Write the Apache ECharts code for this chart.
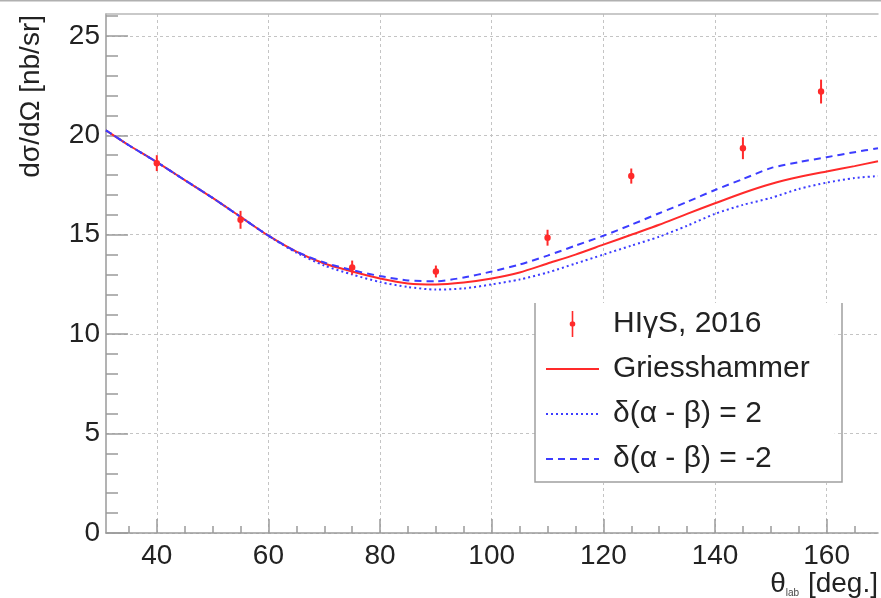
<!DOCTYPE html>
<html>
<head>
<meta charset="utf-8">
<script src="https://cdn.jsdelivr.net/npm/echarts@6/dist/echarts.min.js"></script>
<style>
  html, body { margin: 0; padding: 0; background: #fff; }
  #chart { width: 881px; height: 598px; }
</style>
</head>
<body>
<div id="chart"></div>
<script>
// Measured cross sections (HIγS, 2016) with their errors
const dataAngles = [40, 55, 75, 90, 110, 125, 145, 159];
const dataValues = [18.6, 15.75, 13.35, 13.15, 14.85, 17.95, 19.35, 22.2];
const dataErrors = [0.4, 0.45, 0.35, 0.3, 0.4, 0.38, 0.55, 0.6];

// Theory curves sampled in the lab angle
const curveAngles = [30.9, 35, 40, 45, 50, 55, 60, 65, 70, 75, 80, 85, 90, 95, 100,
  105, 110, 115, 120, 125, 130, 135, 140, 145, 150, 155, 160, 165, 169.2];
const griesshammer = [20.25, 19.5, 18.65, 17.75, 16.85, 15.9, 14.95, 14.15, 13.55, 13.15, 12.8,
  12.55, 12.5, 12.6, 12.8, 13.1, 13.55, 14.0, 14.5, 15.0, 15.5, 16.05, 16.58, 17.1, 17.55,
  17.9, 18.18, 18.45, 18.7];
const deltaPlus2 = [20.25, 19.5, 18.65, 17.75, 16.85, 15.9, 14.95, 14.1, 13.45, 13.0, 12.62,
  12.37, 12.24, 12.3, 12.5, 12.75, 13.1, 13.55, 14.0, 14.45, 14.9, 15.45, 16.05, 16.5, 16.85,
  17.3, 17.62, 17.85, 17.95];
const deltaMinus2 = [20.25, 19.5, 18.65, 17.75, 16.85, 15.9, 14.95, 14.15, 13.6, 13.22, 12.92,
  12.7, 12.66, 12.85, 13.15, 13.5, 13.95, 14.45, 14.95, 15.5, 16.08, 16.65, 17.25, 17.8, 18.35,
  18.65, 18.9, 19.15, 19.35];

// Tick positions
const xMajorTicks = [40, 60, 80, 100, 120, 140, 160];
const xMinorTicks = [35, 45, 50, 55, 65, 70, 75, 85, 90, 95, 105, 110, 115, 125, 130, 135,
  145, 150, 155, 165];
const yMajorTicks = [0, 5, 10, 15, 20, 25];
const yMinorTicks = [1, 2, 3, 4, 6, 7, 8, 9, 11, 12, 13, 14, 16, 17, 18, 19, 21, 22, 23, 24, 26];

const FONT = 'Liberation Sans, Arial, Helvetica, sans-serif';
const RED = '#ff2a2a';
const BLUE = '#3c3cff';
const AXIS_GRAY = '#9a9a9a';

const pairs = (xs, ys) => xs.map((x, i) => [x, ys[i]]);

const chart = echarts.init(document.getElementById('chart'), null, { renderer: 'canvas' });

const xRange = { min: 30.9, max: 169.2 };
const yRange = { min: 0, max: 26.1 };

// legend entries for the curves show only the line, no marker
const lineOnly = { itemStyle: { opacity: 0 } };

chart.setOption({
  animation: false,
  backgroundColor: '#fff',
  grid: { left: 106, right: 3, top: 14, bottom: 65, containLabel: false, outerBoundsMode: 'none' },
  xAxis: [
    {
      type: 'value', ...xRange, position: 'bottom',
      axisLine: { show: true, lineStyle: { color: AXIS_GRAY, width: 1.5 } },
      axisTick: { show: true, inside: true, length: 14, customValues: xMajorTicks,
        lineStyle: { color: AXIS_GRAY, width: 1.5 } },
      axisLabel: { customValues: xMajorTicks, fontSize: 28, color: '#222', margin: 9, fontFamily: FONT },
      splitLine: { show: true, lineStyle: { color: '#c4c4c4', width: 1, type: [3, 3] } }
    },
    {
      type: 'value', ...xRange, position: 'bottom',
      axisLine: { show: false },
      axisTick: { show: true, inside: true, length: 7, customValues: xMinorTicks,
        lineStyle: { color: AXIS_GRAY, width: 1.5 } },
      axisLabel: { show: false },
      splitLine: { show: false }
    },
    {
      type: 'value', ...xRange, position: 'top',
      axisLine: { show: true, lineStyle: { color: '#b8b8b8', width: 1.5 } },
      axisTick: { show: false }, axisLabel: { show: false }, splitLine: { show: false }
    }
  ],
  yAxis: [
    {
      type: 'value', ...yRange, position: 'left',
      axisLine: { show: true, lineStyle: { color: AXIS_GRAY, width: 1.5 } },
      axisTick: { show: true, inside: true, length: 22, customValues: yMajorTicks,
        lineStyle: { color: AXIS_GRAY, width: 1.5 } },
      axisLabel: { customValues: yMajorTicks, fontSize: 28, color: '#222', margin: 6, fontFamily: FONT },
      splitLine: { show: true, lineStyle: { color: '#c4c4c4', width: 1, type: [3, 3] } }
    },
    {
      type: 'value', ...yRange, position: 'left',
      axisLine: { show: false },
      axisTick: { show: true, inside: true, length: 12, customValues: yMinorTicks,
        lineStyle: { color: AXIS_GRAY, width: 1.5 } },
      axisLabel: { show: false },
      splitLine: { show: false }
    }
  ],
  legend: {
    orient: 'vertical', left: 535, top: 303,
    padding: [6, 25, 9, 10], itemGap: 15, itemWidth: 53, itemHeight: 26,
    backgroundColor: '#fff', borderWidth: 0,
    textStyle: { fontSize: 30, lineHeight: 30, color: '#222', fontFamily: FONT, padding: [0, 0, 0, 9] },
    data: [
      { name: 'HIγS, 2016',
        icon: 'path://M2.2,0 L3.8,0 L3.8,26 L2.2,26 Z M0.2,13 A2.8,2.8 0 1,1 5.8,13 A2.8,2.8 0 1,1 0.2,13 Z' },
      { name: 'Griesshammer', ...lineOnly },
      { name: 'δ(α - β) = 2', ...lineOnly },
      { name: 'δ(α - β) = -2', ...lineOnly }
    ]
  },
  graphic: [
    { type: 'rect', shape: { x: 0, y: 0, width: 881, height: 1.5 }, style: { fill: '#b0b0b0' }, silent: true },
    { type: 'polyline', z: 100, silent: true,
      shape: { points: [[535, 303], [535, 482], [842, 482], [842, 303]] },
      style: { stroke: '#a0a0a0', lineWidth: 1.5, fill: null } },
    { type: 'text', x: 31, y: 15, rotation: Math.PI / 2, silent: true,
      style: { text: 'dσ/dΩ [nb/sr]', fontSize: 28, fontFamily: FONT, fill: '#222',
        align: 'right', verticalAlign: 'middle' } },
    { type: 'text', x: 878, y: 598, silent: true,
      style: {
        text: '{t|θ}{s|lab}{n| [deg.]}', align: 'right', verticalAlign: 'bottom',
        rich: {
          t: { fontSize: 28, fontFamily: FONT, fill: '#222', lineHeight: 32, verticalAlign: 'bottom' },
          s: { fontSize: 10, fontFamily: FONT, fill: '#444', lineHeight: 32, verticalAlign: 'bottom', padding: [0, 1, 0, 0] },
          n: { fontSize: 28, fontFamily: FONT, fill: '#222', lineHeight: 32, verticalAlign: 'bottom' }
        }
      } }
  ],
  series: [
    {
      type: 'line', name: 'Griesshammer', data: pairs(curveAngles, griesshammer),
      symbol: 'none', showSymbol: false, smooth: 0.25, z: 2,
      lineStyle: { color: RED, width: 2 }, itemStyle: { color: RED }
    },
    {
      type: 'line', name: 'δ(α - β) = 2', data: pairs(curveAngles, deltaPlus2),
      symbol: 'none', showSymbol: false, smooth: 0.25, z: 3,
      lineStyle: { color: BLUE, width: 2, type: [2, 3] }, itemStyle: { color: BLUE }
    },
    {
      type: 'line', name: 'δ(α - β) = -2', data: pairs(curveAngles, deltaMinus2),
      symbol: 'none', showSymbol: false, smooth: 0.25, z: 4,
      lineStyle: { color: BLUE, width: 2, type: [7, 5] }, itemStyle: { color: BLUE }
    },
    {
      type: 'custom', name: 'HIγS, 2016', z: 5,
      itemStyle: { color: RED },
      data: dataAngles.map((a, i) => [a, dataValues[i], dataErrors[i]]),
      encode: { x: 0, y: 1 },
      renderItem(params, api) {
        const x = api.value(0), y = api.value(1), e = api.value(2);
        const top = api.coord([x, y + e]);
        const bot = api.coord([x, y - e]);
        const c = api.coord([x, y]);
        return {
          type: 'group',
          children: [
            { type: 'line', shape: { x1: top[0], y1: top[1], x2: bot[0], y2: bot[1] },
              style: { stroke: RED, lineWidth: 2 } },
            { type: 'circle', shape: { cx: c[0], cy: c[1], r: 3.2 }, style: { fill: RED } }
          ]
        };
      }
    }
  ]
});
</script>
</body>
</html>
